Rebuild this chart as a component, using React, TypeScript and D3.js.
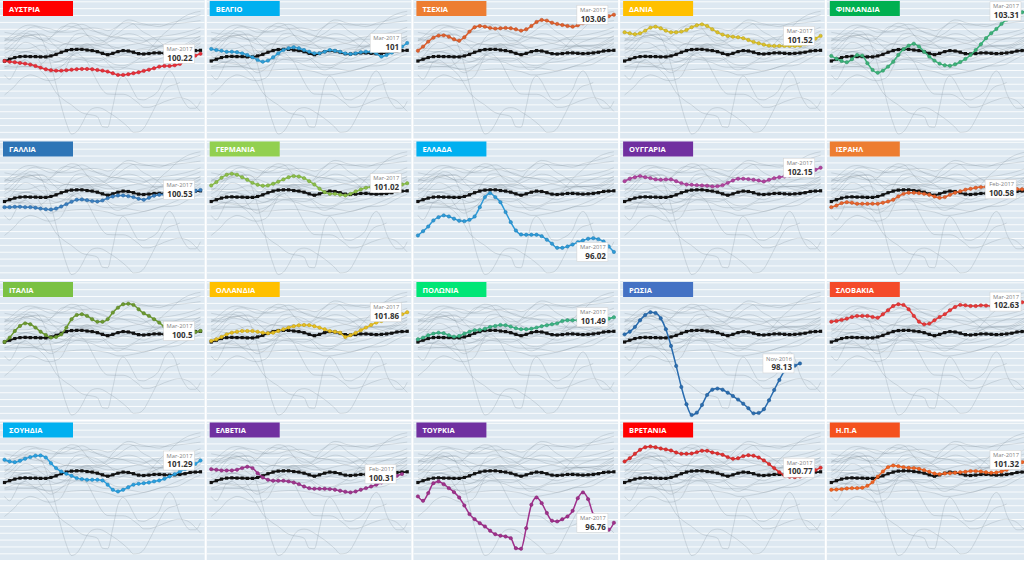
import React from 'react';
import * as d3 from 'd3';

const MONTHS: string[] = d3.timeMonth
  .range(new Date(2014, 0, 1), new Date(2017, 3, 1))
  .map(d3.timeFormat('%b-%Y'));

const AVERAGE = [99.69,99.82,99.94,100.01,100.03,100.01,100.01,99.99,99.99,100.06,100.18,100.33,100.45,100.52,100.54,100.54,100.49,100.45,100.37,100.25,100.15,100.25,100.37,100.45,100.42,100.33,100.23,100.2,100.23,100.28,100.28,100.25,100.23,100.25,100.28,100.33,100.42,100.45,100.47];
const AUSTRIA = [99.69,99.64,99.6,99.55,99.5,99.43,99.33,99.21,99.09,99.02,98.99,98.99,99.02,99.06,99.09,99.11,99.11,99.09,99.04,98.99,98.92,98.8,98.68,98.68,98.73,98.8,98.87,98.97,99.06,99.16,99.28,99.33,99.33,99.38,99.48,99.69,99.89,100.08,100.22];
const BELGIUM = [100.57,100.49,100.44,100.37,100.37,100.33,100.25,100.13,99.96,99.77,99.64,99.72,99.96,100.25,100.49,100.62,100.69,100.62,100.49,100.37,100.25,100.25,100.37,100.49,100.44,100.37,100.25,100.2,100.25,100.33,100.37,100.37,100.25,100.01,100.13,100.3,100.49,100.74,101];
const CZECH = [100.44,100.74,101.1,101.39,101.54,101.56,101.46,101.27,101.17,101.42,101.83,102.15,102.24,102.19,102.1,102.05,102.07,102.1,102.07,102.0,101.9,102.0,102.24,102.53,102.68,102.63,102.48,102.39,102.31,102.24,102.19,102.29,102.44,102.53,102.63,102.73,102.82,102.95,103.06];
const DENMARK = [101.78,101.71,101.64,101.71,101.9,102.12,102.19,102.07,101.9,101.78,101.78,101.83,101.95,102.15,102.29,102.36,102.24,102.0,101.78,101.61,101.51,101.46,101.42,101.35,101.22,101.08,100.98,100.88,100.81,100.79,100.79,100.79,100.79,100.79,100.81,100.91,101.1,101.32,101.52];
const FINLAND = [100.06,99.86,99.69,99.6,99.82,100.13,100.08,99.53,99.04,98.84,98.99,99.28,99.64,100.13,100.55,100.81,100.95,100.74,100.37,100.01,99.72,99.5,99.38,99.35,99.45,99.62,99.84,100.13,100.49,100.91,101.35,101.71,102.02,102.39,102.7,102.95,103.12,103.24,103.31];
const FRANCE = [99.28,99.28,99.31,99.31,99.28,99.28,99.24,99.18,99.13,99.11,99.18,99.33,99.5,99.67,99.82,99.84,99.79,99.72,99.69,99.77,99.94,100.06,100.13,100.13,100.08,100.01,99.89,99.82,99.96,100.11,100.18,100.2,100.23,100.25,100.28,100.33,100.37,100.47,100.53];
const GERMANY = [100.86,101.1,101.42,101.64,101.71,101.64,101.46,101.27,101.05,100.91,100.84,100.86,100.98,101.13,101.3,101.46,101.54,101.51,101.39,101.17,100.93,100.62,100.37,100.25,100.25,100.18,100.13,100.25,100.42,100.57,100.69,100.74,100.79,100.81,100.84,100.86,100.88,100.93,101.02];
const GREECE = [97.22,97.53,97.87,98.31,98.55,98.68,98.6,98.44,98.29,98.26,98.36,98.6,99.28,100.01,100.3,100.01,99.64,98.92,98.19,97.58,97.29,97.27,97.27,97.27,97.17,96.91,96.62,96.32,96.32,96.42,96.56,96.73,96.86,96.98,97.02,96.95,96.78,96.42,96.02];
const HUNGARY = [101.17,101.35,101.46,101.54,101.46,101.39,101.3,101.27,101.3,101.3,101.17,101.03,100.93,100.91,100.88,100.86,100.84,100.79,100.81,100.88,101.05,101.22,101.35,101.35,101.32,101.27,101.22,101.15,101.27,101.39,101.46,101.51,101.56,101.62,101.7,101.78,101.88,102.0,102.15];
const ISRAEL = [99.28,99.4,99.57,99.64,99.6,99.53,99.53,99.53,99.53,99.53,99.6,99.69,99.82,100.06,100.25,100.33,100.33,100.3,100.25,100.18,100.06,99.96,100.01,100.18,100.33,100.44,100.55,100.62,100.69,100.74,100.76,100.79,100.79,100.76,100.72,100.66,100.6,100.58];
const ITALY = [99.69,100.01,100.49,100.86,101.05,100.98,100.74,100.44,100.2,100.01,100.06,100.25,100.74,101.35,101.66,101.71,101.59,101.35,101.17,101.17,101.35,101.83,102.19,102.44,102.48,102.39,102.07,101.78,101.59,101.35,101.1,100.81,100.66,100.55,100.44,100.4,100.37,100.42,100.5];
const NETHERLANDS = [99.77,99.89,100.06,100.25,100.37,100.44,100.49,100.49,100.49,100.44,100.37,100.33,100.37,100.49,100.62,100.74,100.84,100.91,100.93,100.91,100.84,100.74,100.62,100.49,100.44,100.37,100.06,100.18,100.35,100.55,100.74,100.93,101.1,101.22,101.35,101.46,101.59,101.71,101.86];
const POLAND = [99.89,100.01,100.18,100.3,100.37,100.33,100.18,100.08,100.13,100.3,100.44,100.55,100.57,100.66,100.79,100.86,100.93,100.91,100.81,100.69,100.62,100.62,100.66,100.74,100.84,100.91,100.98,101.05,101.22,101.27,101.27,101.27,101.27,101.27,101.3,101.32,101.35,101.39,101.49];
const RUSSIA = [100.25,100.44,100.79,101.27,101.66,101.86,101.8,101.42,100.62,99.4,97.95,96.42,95.16,94.38,94.55,95.11,95.84,96.22,96.3,96.22,96.0,95.76,95.5,95.2,94.87,94.5,94.53,94.8,95.45,96.2,96.93,97.58,97.87,97.97,98.13];
const SLOVAKIA = [101.17,101.22,101.3,101.39,101.51,101.59,101.59,101.59,101.51,101.46,101.71,102.0,102.31,102.44,102.39,102.07,101.59,101.17,100.98,101.03,101.27,101.51,101.71,102.0,102.24,102.39,102.36,102.31,102.31,102.36,102.34,102.31,102.34,102.39,102.44,102.48,102.53,102.58,102.63];
const SWEDEN = [101.35,101.22,101.17,101.27,101.42,101.54,101.64,101.66,101.51,101.1,100.74,100.49,100.33,100.18,100.01,99.94,99.89,99.89,99.89,99.84,99.53,99.16,99.04,99.16,99.35,99.53,99.6,99.64,99.69,99.77,99.84,99.96,100.13,100.3,100.49,100.66,100.86,101.05,101.29];
const SWITZERLAND = [100.66,100.62,100.57,100.57,100.57,100.62,100.74,100.84,100.74,100.37,100.06,99.89,99.82,99.82,99.82,99.77,99.69,99.57,99.4,99.28,99.24,99.24,99.24,99.21,99.16,99.09,99.02,98.97,99.04,99.16,99.28,99.4,99.53,99.69,99.84,100.01,100.18,100.31];
const TURKEY = [98.68,98.36,98.92,99.64,99.77,99.57,99.28,98.99,98.6,98.02,97.39,97.02,96.73,96.49,96.18,95.93,95.82,95.76,95.64,94.91,94.87,96.37,98.07,98.6,98.19,97.47,96.91,96.86,97.02,97.22,97.63,98.55,98.97,98.48,97.34,96.62,96.25,96.25,96.76];
const UK = [101.22,101.46,101.78,102.07,102.26,102.31,102.26,102.17,102.1,102.02,101.88,101.78,101.78,101.8,101.9,102.0,102.0,101.88,101.8,101.71,101.54,101.42,101.46,101.61,101.68,101.64,101.51,101.3,101.03,100.74,100.44,100.2,100.11,100.08,100.13,100.25,100.42,100.59,100.77];
const USA = [99.16,99.18,99.21,99.26,99.28,99.28,99.31,99.45,99.72,100.11,100.49,100.81,100.93,100.88,100.81,100.76,100.74,100.69,100.59,100.47,100.35,100.3,100.35,100.37,100.4,100.44,100.47,100.52,100.52,100.49,100.44,100.4,100.42,100.49,100.62,100.79,100.98,101.17,101.32];

const NAMES = ['ΑΥΣΤΡΙΑ','ΒΕΛΓΙΟ','ΤΣΕΧΙΑ','ΔΑΝΙΑ','ΦΙΝΛΑΝΔΙΑ','ΓΑΛΛΙΑ','ΓΕΡΜΑΝΙΑ','ΕΛΛΑΔΑ','ΟΥΓΓΑΡΙΑ','ΙΣΡΑΗΛ','ΙΤΑΛΙΑ','ΟΛΛΑΝΔΙΑ','ΠΟΛΩΝΙΑ','ΡΩΣΙΑ','ΣΛΟΒΑΚΙΑ','ΣΟΥΗΔΙΑ','ΕΛΒΕΤΙΑ','ΤΟΥΡΚΙΑ','ΒΡΕΤΑΝΙΑ','Η.Π.Α'];
const SERIES = [AUSTRIA,BELGIUM,CZECH,DENMARK,FINLAND,FRANCE,GERMANY,GREECE,HUNGARY,ISRAEL,ITALY,NETHERLANDS,POLAND,RUSSIA,SLOVAKIA,SWEDEN,SWITZERLAND,TURKEY,UK,USA];
const TITLE_COLORS = ['#ff0000','#00b0f0','#ed7d31','#ffc000','#00b050','#2e75b6','#92d050','#00b0f0','#7030a0','#ed7d31','#7ac143','#ffc000','#00e676','#4472c4','#f44b2a','#00b0f0','#7030a0','#7030a0','#ff0000','#f4511e'];
const LINE_COLORS = ['#e8303a','#2f9fd8','#e0602e','#dcc22a','#3cb37a','#3a7fc0','#8cbf4a','#2e9ad8','#b0449f','#e8642e','#6c9a30','#e6bf22','#3cb384','#2a6db0','#e83838','#2aa0e0','#a0368f','#a0308c','#e03030','#f06424'];

const W = 1024, H = 563;
const COLW = 206.7, ROWH = 140.5;
const PW = COLW - 2, PH = ROWH - 2;

const x = d3.scalePoint<string>().domain(MONTHS).range([4.5, 200.5]);
const y = d3.scaleLinear().domain([94, 104]).range([139.2, 1.8]);
const GRID = d3.range(94.5, 104.01, 0.5);
const lineGen = d3.line<number>()
  .x((_, i) => x(MONTHS[i]) as number)
  .y((d) => y(d))
  .curve(d3.curveMonotoneX);

function Panel({ idx }: { idx: number }) {
  const c = idx % 5, r = Math.floor(idx / 5);
  const ox = c * COLW, oy = r * ROWH;
  const vals = SERIES[idx];
  const color = LINE_COLORS[idx];
  const n = vals.length;
  const px = x(MONTHS[n - 1]) as number;
  const py = y(vals[n - 1]);
  const bw = 31, bh = 19;
  let bx = px - 6 - bw;
  if (ox + bx + bw > W - 3) bx = W - 3 - bw - ox;
  const by = py - bh / 2;
  return (
    <g transform={`translate(${ox},${oy})`}>
      <defs>
        <clipPath id={`clip${idx}`}>
          <rect x={0} y={0} width={PW} height={PH} />
        </clipPath>
      </defs>
      <rect x={0} y={0} width={PW} height={PH} fill="#dde8f1" />
      <g clipPath={`url(#clip${idx})`}>
        {GRID.map((g) => (
          <line key={g} x1={0} x2={PW} y1={y(g)} y2={y(g)} stroke="#ffffff" strokeWidth={1} opacity={0.85} />
        ))}
        {SERIES.map((s, j) => (
          <path key={j} d={lineGen(s) || ''} fill="none" stroke="#8593a0" strokeWidth={0.85} opacity={0.32} />
        ))}
        <path d={lineGen(AVERAGE) || ''} fill="none" stroke="#111" strokeWidth={1.8} />
        {AVERAGE.map((v, i) => (
          <rect key={i} x={(x(MONTHS[i]) as number) - 1.6} y={y(v) - 1.6} width={3.2} height={3.2} fill="#111" />
        ))}
        <path d={lineGen(vals) || ''} fill="none" stroke={color} strokeWidth={1.5} />
        {vals.map((v, i) => (
          <circle key={i} cx={x(MONTHS[i]) as number} cy={y(v)} r={1.7} fill={color} stroke={d3.color(color)!.darker(0.6).toString()} strokeWidth={0.5} />
        ))}
      </g>
      <rect x={bx} y={by} width={bw} height={bh} fill="#ffffff" stroke="#d0d0d0" strokeWidth={0.5} />
      <text x={bx + bw - 2} y={by + 6.6} textAnchor="end" fontSize={5.8} fill="#808080" fontFamily="Open Sans, sans-serif">{MONTHS[n - 1]}</text>
      <text x={bx + bw - 2} y={by + 16.3} textAnchor="end" fontSize={8} fontWeight="bold" fill="#333" fontFamily="Open Sans, sans-serif">{String(vals[n - 1])}</text>
      <rect x={3} y={1} width={70} height={15} fill={TITLE_COLORS[idx]} />
      <text x={9} y={11.5} fontSize={7.5} fontWeight="bold" fill="#ffffff" fontFamily="Open Sans, sans-serif">{NAMES[idx]}</text>
    </g>
  );
}

export default function App() {
  return (
    <svg width={W} height={H} style={{ position: 'absolute', left: 0, top: 0, background: '#ffffff' }}>
      {NAMES.map((_, i) => <Panel key={i} idx={i} />)}
    </svg>
  );
}
